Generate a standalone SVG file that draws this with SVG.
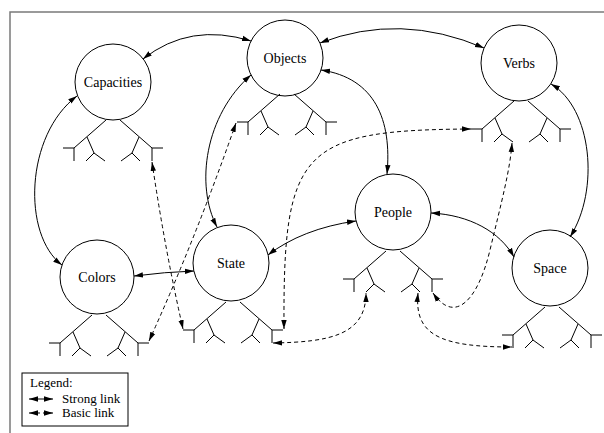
<svg xmlns="http://www.w3.org/2000/svg" width="604" height="433" viewBox="0 0 604 433">
  <style>
    .node circle { fill: #fff; stroke: #000; stroke-width: 1; }
    .node text { font-family: "Liberation Serif", "Times New Roman", serif; font-size: 14px; text-anchor: middle; fill: #000; }
    .tree { fill: none; stroke: #000; stroke-width: 1; }
    .strong { fill: none; stroke: #000; stroke-width: 1; marker-start: url(#head); marker-end: url(#head); }
    .basic { fill: none; stroke: #000; stroke-width: 1; stroke-dasharray: 4 3; marker-start: url(#head); marker-end: url(#head); }
    .legend text { font-family: "Liberation Serif", "Times New Roman", serif; font-size: 13px; fill: #000; }
  </style>
  <defs>
    <marker id="head" markerUnits="userSpaceOnUse" markerWidth="10" markerHeight="8" refX="9" refY="4" orient="auto-start-reverse" viewBox="0 0 10 8">
      <path d="M0,1.3 L9,4 L0,6.7 z" fill="#000"/>
    </marker>
    <!-- branching glyph under a node; origin at the level of the two T joints -->
    <path id="branch" d="M-7,-28 L-39,0 H-50 M-39,0 V13 M-26,-11 L-19,5 L-27,13 M-19,5 L-8,13 M7,-28 L39,0 H50 M39,0 V13 M26,-11 L19,5 L27,13 M19,5 L8,13"/>
  </defs>

  <rect width="604" height="433" fill="#fff"/>
  <path d="M10,433 V12 H604" fill="none" stroke="#7a7a7a" stroke-width="1.5"/>

  <g id="capacities" class="node">
    <circle cx="113" cy="82" r="38"/>
    <text x="113" y="87">Capacities</text>
    <use href="#branch" class="tree" transform="translate(113,148)"/>
  </g>
  <g id="objects" class="node">
    <circle cx="285" cy="58" r="38"/>
    <text x="285" y="63">Objects</text>
    <use href="#branch" class="tree" transform="translate(287,122)"/>
  </g>
  <g id="verbs" class="node">
    <circle cx="519" cy="63" r="38"/>
    <text x="519" y="68">Verbs</text>
    <use href="#branch" class="tree" transform="translate(521,129)"/>
  </g>
  <g id="colors" class="node">
    <circle cx="97" cy="277" r="37"/>
    <text x="97" y="282">Colors</text>
    <use href="#branch" class="tree" transform="translate(99,343)"/>
  </g>
  <g id="state" class="node">
    <circle cx="231" cy="263" r="38"/>
    <text x="231" y="268">State</text>
    <use href="#branch" class="tree" transform="translate(233,330)"/>
  </g>
  <g id="people" class="node">
    <circle cx="393" cy="212" r="38"/>
    <text x="393" y="217">People</text>
    <use href="#branch" class="tree" transform="translate(393,279)"/>
  </g>
  <g id="space" class="node">
    <circle cx="550" cy="268" r="38"/>
    <text x="550" y="273">Space</text>
    <use href="#branch" class="tree" transform="translate(552,335)"/>
  </g>

  <g id="connectors">
    <!-- strong links between nodes -->
    <path class="strong" d="M143,59 Q190,22 251,41"/>
    <path class="strong" d="M320,43 Q400,12 484,48"/>
    <path class="strong" d="M77,96 C25,135 22,235 62,265"/>
    <path class="strong" d="M251,75 C205,115 195,185 217,227"/>
    <path class="strong" d="M321,70 C375,78 392,120 387,174"/>
    <path class="strong" d="M551,84 C592,108 600,190 570,237"/>
    <path class="strong" d="M431,213 C470,215 500,232 514,257"/>
    <path class="strong" d="M356,221 C320,226 290,238 268,255"/>
    <path class="strong" d="M134,276 Q165,272 194,271"/>
    <!-- basic links between branch tips -->
    <path class="basic" d="M152,162 Q165,250 183,329"/>
    <path class="basic" d="M149,341 Q195,240 236,123"/>
    <path class="basic" d="M471,129 C300,130 283,150 284,329"/>
    <path class="basic" d="M273,343 C330,342 366,335 366,293"/>
    <path class="basic" d="M418,293 C414,335 440,347 512,347"/>
    <path class="basic" d="M433,293 C455,325 478,300 490,250 S510,170 512,143"/>
  </g>

  <g id="legend" class="legend">
    <rect x="22" y="373" width="106" height="53" fill="#fff" stroke="#000" stroke-width="1"/>
    <text x="30" y="387">Legend:</text>
    <path class="strong" d="M29,399 H53"/>
    <text x="62" y="403">Strong link</text>
    <path class="basic" d="M29,413 H53"/>
    <text x="62" y="417">Basic link</text>
  </g>
</svg>
